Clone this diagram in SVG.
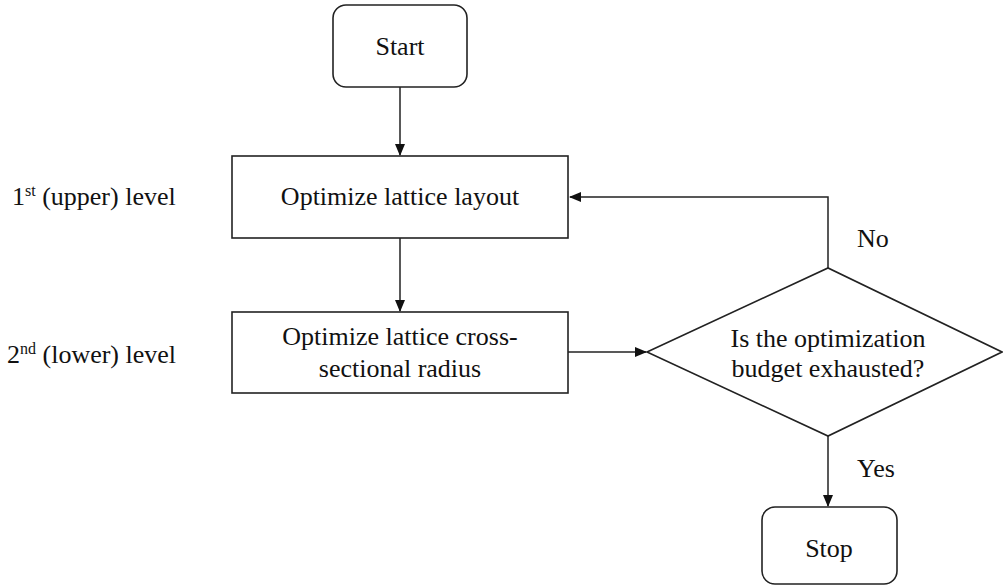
<svg xmlns="http://www.w3.org/2000/svg" width="1003" height="588" viewBox="0 0 1003 588">
<style>
.shape{fill:#fff;stroke:#222;stroke-width:1.6}
.conn{fill:none;stroke:#222;stroke-width:1.5}
.t{font-family:'Liberation Serif','Times New Roman','DejaVu Serif',serif;font-size:26px;fill:#111}
.c{text-anchor:middle}
.sup{font-size:16px}
</style>
<defs>
<marker id="arr" markerWidth="12" markerHeight="10" refX="11" refY="5" orient="auto" markerUnits="userSpaceOnUse">
<path d="M0,0 L12,5 L0,10 Z" fill="#111"/>
</marker>
</defs>
<rect width="1003" height="588" fill="#fff"/>
<g id="connectors">
<line class="conn" x1="400" y1="87" x2="400" y2="155" marker-end="url(#arr)"/>
<line class="conn" x1="400" y1="238" x2="400" y2="311" marker-end="url(#arr)"/>
<line class="conn" x1="568" y1="352" x2="646" y2="352" marker-end="url(#arr)"/>
<polyline class="conn" points="828,268 828,197 570,197" marker-end="url(#arr)"/>
<line class="conn" x1="828" y1="436" x2="828" y2="506" marker-end="url(#arr)"/>
<text class="t" font-family="Liberation Serif, serif" x="857" y="247">No</text>
<text class="t" font-family="Liberation Serif, serif" x="857" y="477">Yes</text>
</g>
<g id="start">
<rect class="shape" x="333" y="5" width="134" height="82" rx="13"/>
<text class="t c" font-family="Liberation Serif, serif" x="400" y="55">Start</text>
</g>
<g id="layout">
<rect class="shape" x="232" y="156" width="336" height="82"/>
<text class="t c" font-family="Liberation Serif, serif" x="400" y="205">Optimize lattice layout</text>
</g>
<g id="radius">
<rect class="shape" x="232" y="312" width="336" height="81"/>
<text class="t c" font-family="Liberation Serif, serif" x="400" y="345">Optimize lattice cross-</text>
<text class="t c" font-family="Liberation Serif, serif" x="400" y="377">sectional radius</text>
</g>
<g id="decision">
<polygon class="shape" points="647,352 828,268 1002,352 828,436"/>
<text class="t c" font-family="Liberation Serif, serif" x="828" y="347">Is the optimization</text>
<text class="t c" font-family="Liberation Serif, serif" x="828" y="377">budget exhausted?</text>
</g>
<g id="stop">
<rect class="shape" x="762" y="507" width="135" height="77" rx="13"/>
<text class="t c" font-family="Liberation Serif, serif" x="829" y="557">Stop</text>
</g>
<g id="level1">
<text class="t" font-family="Liberation Serif, serif" x="12" y="205">1<tspan class="sup" dy="-9">st</tspan><tspan dy="9"> (upper) level</tspan></text>
</g>
<g id="level2">
<text class="t" font-family="Liberation Serif, serif" x="7" y="363">2<tspan class="sup" dy="-9">nd</tspan><tspan dy="9"> (lower) level</tspan></text>
</g>
</svg>
